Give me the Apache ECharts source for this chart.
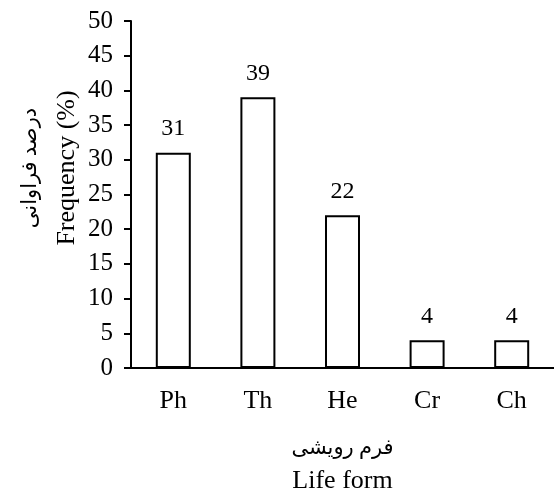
<!DOCTYPE html>
<html>
<head>
<meta charset="utf-8">
<script src="https://cdn.jsdelivr.net/npm/echarts@6/dist/echarts.min.js"></script>
<style>html,body{margin:0;padding:0;background:#fff;}#c{width:554px;height:502px;}</style>
</head>
<body>
<div id="c"></div>
<script>
var categories = ['Ph', 'Th', 'He', 'Cr', 'Ch'];
var frequency = [31, 39, 22, 4, 4];
var yTitleFa = 'درصد فراوانی';
var yTitleEn = 'Frequency (%)';
var xTitleFa = 'فرم رویشی';
var xTitleEn = 'Life form';

var serif = '"Liberation Serif", "DejaVu Serif", serif';
var arab = '"Liberation Serif", "DejaVu Sans", sans-serif';
var chart = echarts.init(document.getElementById('c'), null, {renderer: 'canvas'});
chart.setOption({
  animation: false,
  backgroundColor: '#fff',
  grid: {left: 131, top: 21, width: 432, height: 347},
  xAxis: {
    type: 'category',
    data: categories,
    name: '{fa|' + xTitleFa + '}\n{en|' + xTitleEn + '}',
    nameLocation: 'middle',
    nameGap: 64,
    nameTextStyle: {
      rich: {
        fa: {fontFamily: arab, fontSize: 21, color: '#000', lineHeight: 33},
        en: {fontFamily: serif, fontSize: 26, color: '#000', lineHeight: 33}
      }
    },
    axisLine: {lineStyle: {color: '#000', width: 2}},
    axisTick: {show: false},
    axisLabel: {color: '#000', fontFamily: serif, fontSize: 26, margin: 20}
  },
  yAxis: {
    type: 'value',
    min: 0, max: 50, interval: 5,
    axisLine: {show: true, lineStyle: {color: '#000', width: 2}},
    axisTick: {show: true, length: 7, lineStyle: {color: '#000', width: 2}},
    splitLine: {show: false},
    axisLabel: {color: '#000', fontFamily: serif, fontSize: 25, margin: 18}
  },
  graphic: [
    {type: 'text', x: 30, y: 168, rotation: Math.PI / 2,
     style: {text: yTitleFa, fontFamily: arab, fontSize: 21, fill: '#000', align: 'center', verticalAlign: 'middle'}},
    {type: 'text', x: 67, y: 168, rotation: Math.PI / 2,
     style: {text: yTitleEn, fontFamily: serif, fontSize: 26, fill: '#000', align: 'center', verticalAlign: 'middle'}}
  ],
  series: [{
    type: 'bar',
    data: frequency,
    barWidth: 35,
    itemStyle: {color: '#fff', borderColor: '#000', borderWidth: 2},
    label: {show: true, position: 'top', distance: 12, color: '#000', fontFamily: serif, fontSize: 24}
  }]
});
</script>
</body>
</html>
